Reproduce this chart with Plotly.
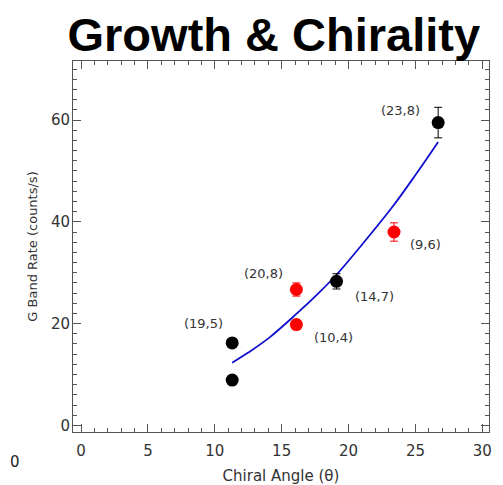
import plotly.graph_objects as go

# Data
black_x = [11.3, 11.3, 19.1, 26.7]
black_y = [16.2, 8.9, 28.3, 59.5]
black_err = [0.5, 0.5, 1.5, 3.0]
black_labels = ["(19,5)", "", "(14,7)", "(23,8)"]

red_x = [16.1, 16.1, 23.4]
red_y = [26.7, 19.8, 38.0]
red_err = [1.3, 0.5, 1.8]
red_labels = ["(20,8)", "(10,4)", "(9,6)"]

fit_x = [11.3, 12.5, 14.1, 16.1, 17.8, 19.1, 21.0, 23.3, 25.0, 26.7]
fit_y = [12.3, 14.3, 17.3, 21.9, 26.1, 29.6, 35.5, 43.0, 49.2, 55.7]

x_ticks = [0, 5, 10, 15, 20, 25, 30]
y_ticks = [0, 20, 40, 60]

# label pixel offsets (ax, ay) for each point
black_offsets = [(-29, -19), None, (38, 15), (-38, -12)]
red_offsets = [(-33, -16), (37, 13), (31, 12)]

fig = go.Figure()
fig.add_trace(go.Scatter(x=fit_x, y=fit_y, mode="lines",
                         line=dict(color="#1010d0", width=1.8, shape="spline", smoothing=1.0),
                         hoverinfo="skip"))
fig.add_trace(go.Scatter(x=black_x, y=black_y, mode="markers",
                         marker=dict(color="black", size=13),
                         error_y=dict(type="data", array=black_err, color="black",
                                      thickness=1, width=4)))
fig.add_trace(go.Scatter(x=red_x, y=red_y, mode="markers",
                         marker=dict(color="#ff0000", size=13),
                         error_y=dict(type="data", array=red_err, color="#ff0000",
                                      thickness=1, width=4)))

annots = []
for xs, ys, labs, offs in [(black_x, black_y, black_labels, black_offsets),
                           (red_x, red_y, red_labels, red_offsets)]:
    for x, y, t, o in zip(xs, ys, labs, offs):
        if not t:
            continue
        annots.append(dict(x=x, y=y, xref="x", yref="y", text=t, showarrow=True,
                           arrowcolor="rgba(0,0,0,0)", ax=o[0], ay=o[1],
                           font=dict(family="DejaVu Sans", size=13, color="#333333")))
# stray "0" at the bottom-left corner of the reference
annots.append(dict(x=-0.156, y=0.0, xref="paper", yref="paper", xanchor="left",
                   yanchor="middle", yshift=-30, text="0", showarrow=False,
                   font=dict(family="DejaVu Sans", size=15, color="#222222")))

axis_common = dict(showgrid=False, zeroline=False, showline=True, linecolor="#555555",
                   linewidth=1, mirror="allticks", ticks="inside", ticklen=8,
                   tickcolor="#555555", tickwidth=1, automargin=False,
                   tickfont=dict(family="DejaVu Sans", size=15, color="#333333"))

fig.update_layout(
    width=495, height=477, showlegend=False,
    paper_bgcolor="white", plot_bgcolor="white",
    margin=dict(l=65, r=14, t=53, b=53),
    title=dict(text="<b>Growth & Chirality</b>", x=0.537, xanchor="center",
               y=0.979, yanchor="top",
               font=dict(family="Liberation Sans", size=47, color="black")),
    xaxis=dict(range=[-0.6, 30.5], tickvals=x_ticks, ticklabelstandoff=5,
               minor=dict(dtick=1, ticks="inside", ticklen=4, tickcolor="#555555"),
               title=dict(text="Chiral Angle (θ)", standoff=12,
                          font=dict(family="DejaVu Sans", size=15, color="#333333")),
               **axis_common),
    yaxis=dict(range=[-1.3, 71.6], tickvals=y_ticks, ticklabelstandoff=-1,
               minor=dict(dtick=2, ticks="inside", ticklen=4, tickcolor="#555555"),
               title=dict(text="G Band Rate (counts/s)", standoff=10,
                          font=dict(family="DejaVu Sans", size=13, color="#333333")),
               **axis_common),
    annotations=annots,
)

fig.write_html("out.html")
